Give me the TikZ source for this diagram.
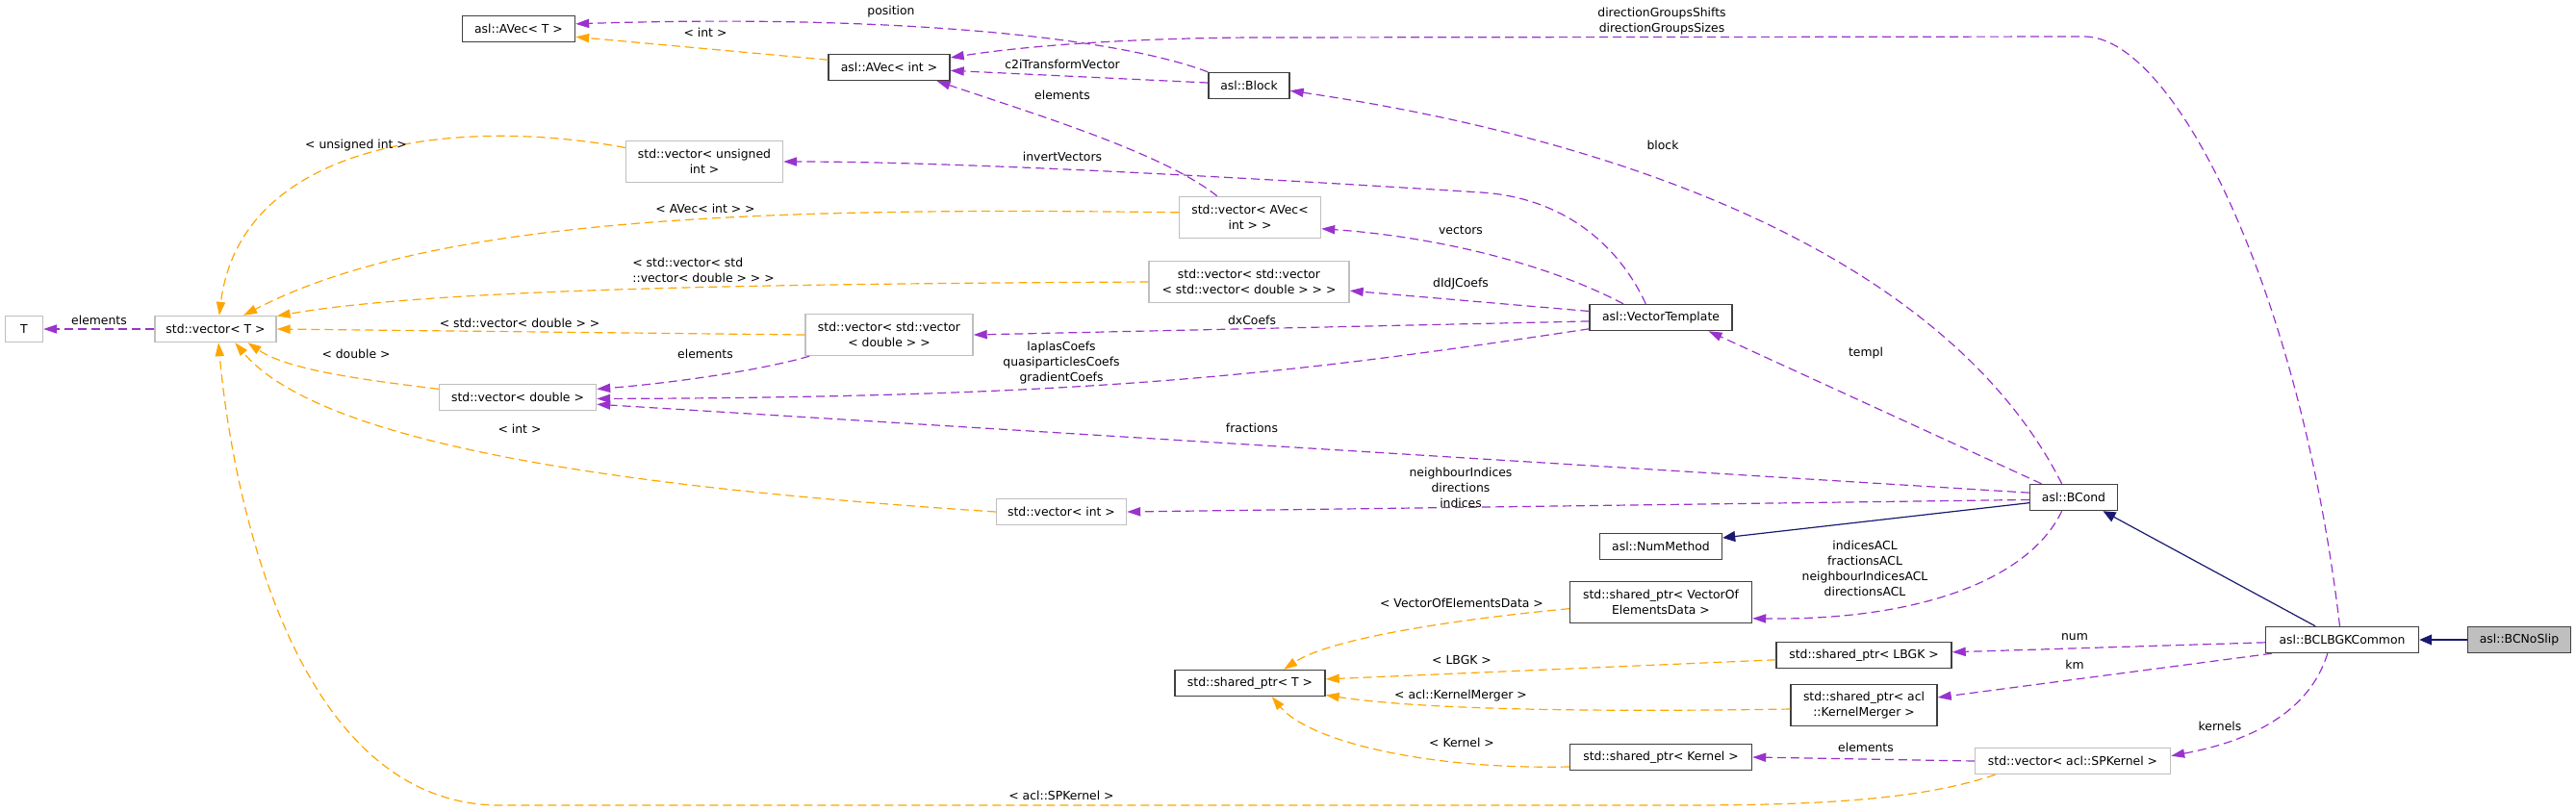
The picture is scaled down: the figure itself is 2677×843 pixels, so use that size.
\documentclass[tikz,border=0pt]{standalone}
\usepackage{fontspec}
\setmainfont{DejaVu Sans}
\usetikzlibrary{arrows.meta}
\definecolor{useEdge}{HTML}{9A32CD}
\definecolor{tmplEdge}{HTML}{FFA500}
\definecolor{inhEdge}{HTML}{191970}
\definecolor{extBorder}{HTML}{BFBFBF}
\definecolor{clsBorder}{HTML}{404040}
\definecolor{selFill}{HTML}{BFBFBF}

\begin{document}
\begin{tikzpicture}[x=0.5pt,y=-0.5pt,
    font=\fontsize{6.2}{8}\selectfont,
    cls/.style={draw=clsBorder,line width=0.7pt,fill=white,align=center,
                inner sep=1pt,minimum height=13.5pt},
    ext/.style={cls,draw=extBorder},
    tall/.style={minimum height=21.5pt},
    lbl/.style={inner sep=0pt,align=center},
    memb/.style={draw=useEdge,line width=0.6pt,dash pattern=on 4.5pt off 2.5pt,
                 -{Triangle[length=7pt,width=4.6pt]}},
    inst/.style={memb,draw=tmplEdge},
    inh/.style={draw=inhEdge,line width=0.6pt,-{Triangle[length=6.5pt,width=5.5pt]}}]

    \useasboundingbox (0,0) rectangle (2677,843);

    % classes and templates
    \node[ext,minimum width=19.5pt] (T) at (25,342) {T};
    \node[ext,minimum width=63pt] (vecT) at (224,342) {std::vector< T >};
    \node[cls,minimum width=58.5pt] (avecT) at (539,30) {asl::AVec< T >};
    \node[ext,tall,minimum width=81.5pt] (vecUInt) at (732,168) {std::vector< unsigned\\int >};
    \node[ext,minimum width=81.5pt] (vecDbl) at (538,413) {std::vector< double >};
    \node[cls,minimum width=63pt] (avecInt) at (924,70) {asl::AVec< int >};
    \node[ext,tall,minimum width=87pt] (vecVecDbl) at (924,348) {std::vector< std::vector\\< double > >};
    \node[ext,minimum width=67.5pt] (vecInt) at (1103,532) {std::vector< int >};
    \node[cls,minimum width=42pt] (block) at (1298,89) {asl::Block};
    \node[ext,tall,minimum width=73.5pt] (vecAVec) at (1299,226) {std::vector< AVec<\\int > >};
    \node[ext,tall,minimum width=104pt] (vecVVD) at (1298,293) {std::vector< std::vector\\< std::vector< double > > >};
    \node[cls,minimum width=78pt] (sptrT) at (1299,710) {std::shared\_ptr< T >};
    \node[cls,minimum width=74pt] (templ) at (1726,330) {asl::VectorTemplate};
    \node[cls,minimum width=63.5pt] (numMethod) at (1726,568) {asl::NumMethod};
    \node[cls,tall,minimum width=94.5pt] (sptrVOED) at (1726,626) {std::shared\_ptr< VectorOf\\ElementsData >};
    \node[cls,minimum width=94.5pt] (sptrKernel) at (1726,787) {std::shared\_ptr< Kernel >};
    \node[cls,minimum width=91pt] (sptrLBGK) at (1937,681) {std::shared\_ptr< LBGK >};
    \node[cls,tall,minimum width=76pt] (sptrKM) at (1937,733) {std::shared\_ptr< acl\\::KernelMerger >};
    \node[cls,minimum width=45.5pt] (bcond) at (2155,517) {asl::BCond};
    \node[ext,minimum width=101.5pt] (vecSPK) at (2154,791) {std::vector< acl::SPKernel >};
    \node[cls,minimum width=79.5pt] (bclbgk) at (2434,665) {asl::BCLBGKCommon};
    \node[cls,fill=selFill,minimum width=53.5pt] (bcnoslip) at (2618,665) {asl::BCNoSlip};

    % member relations
    \draw[memb] (vecT.west) -- (T.east);
    \draw[memb] (block.north west) .. controls (1150,35) and (900,15) .. (avecT.5);
    \draw[memb] (block.176) -- (avecInt.-3);
    \draw[memb] (bclbgk.100) .. controls (2390,300) and (2260,40) .. (2167,38)
        -- (1300,39) .. controls (1150,40) and (1050,50) .. (avecInt.9);
    \draw[memb] (vecAVec.147) .. controls (1210,160) and (1080,120) .. (avecInt.-16);
    \draw[memb] (templ.138) .. controls (1680,250) and (1620,205) .. (1539,200)
        .. controls (1300,185) and (1000,168) .. (vecUInt.east);
    \draw[memb] (templ.160) .. controls (1600,270) and (1480,245) .. (vecAVec.-9);
    \draw[memb] (templ.175) -- (vecVVD.-5);
    \draw[memb] (templ.183) -- (vecVecDbl.east);
    \draw[memb] (templ.189) .. controls (1350,387) and (1150,413) .. (vecDbl.-1);
    \draw[memb] (vecVecDbl.195) .. controls (790,385) and (700,398) .. (vecDbl.6);
    \draw[memb] (bcond.174) -- (vecDbl.-5);
    \draw[memb] (bcond.183) -- (vecInt.east);
    \draw[memb] (bcond.157) -- (templ.-16);
    \draw[memb] (bcond.131) .. controls (2030,280) and (1720,150) .. (block.-7);
    \draw[memb] (bcond.-131) .. controls (2110,600) and (2000,645) .. (sptrVOED.-10);
    \draw[memb] (bclbgk.182) -- (sptrLBGK.2);
    \draw[memb] (bclbgk.191) -- (sptrKM.6);
    \draw[memb] (bclbgk.223) .. controls (2400,740) and (2340,770) .. (vecSPK.3);
    \draw[memb] (vecSPK.west) -- (sptrKernel.east);

    % template instances
    \draw[inst] (avecInt.173) -- (avecT.-8);
    \draw[inst] (vecUInt.170) .. controls (470,120) and (250,150) .. (vecT.75);
    \draw[inst] (vecAVec.176) .. controls (800,215) and (450,225) .. (vecT.26);
    \draw[inst] (vecVVD.west) .. controls (800,295) and (450,300) .. (vecT.12);
    \draw[inst] (vecVecDbl.west) -- (vecT.east);
    \draw[inst] (vecDbl.174) .. controls (380,395) and (300,385) .. (vecT.-23);
    \draw[inst] (vecInt.west) .. controls (700,510) and (340,470) .. (vecT.-35);
    \draw[inst] (vecSPK.190) .. controls (2000,830) and (1900,837) .. (1750,837)
        -- (520,837) .. controls (300,837) and (240,500) .. (vecT.-78);
    \draw[inst] (sptrVOED.184) .. controls (1500,645) and (1380,665) .. (sptrT.22);
    \draw[inst] (sptrLBGK.183) -- (sptrT.3);
    \draw[inst] (sptrKM.183) .. controls (1600,741) and (1460,735) .. (sptrT.-9);
    \draw[inst] (sptrKernel.186) .. controls (1480,800) and (1360,770) .. (sptrT.-32);

    % inheritance
    \draw[inh] (bcond.187) -- (numMethod.8);
    \draw[inh] (bclbgk.153) -- (bcond.-25);
    \draw[inh] (bcnoslip.west) -- (bclbgk.east);

    % edge labels
    \node[lbl] (lElemT) at (103,333) {elements};
    \node[lbl] (lPosition) at (926,12) {position};
    \node[lbl] (lC2i) at (1104,67) {c2iTransformVector};
    \node[lbl] (lDirGroups) at (1727,22) {directionGroupsShifts\\directionGroupsSizes};
    \node[lbl] (lElemAVec) at (1104,99) {elements};
    \node[lbl] (lInvert) at (1104,163) {invertVectors};
    \node[lbl] (lVectors) at (1518,239) {vectors};
    \node[lbl] (lDIdJ) at (1518,295) {dIdJCoefs};
    \node[lbl] (lDx) at (1301,333) {dxCoefs};
    \node[lbl] (lLaplas) at (1103,377) {laplasCoefs\\quasiparticlesCoefs\\gradientCoefs};
    \node[lbl] (lElemDbl) at (733,368) {elements};
    \node[lbl] (lFractions) at (1301,445) {fractions};
    \node[lbl] (lIndices) at (1518,507) {neighbourIndices\\directions\\indices};
    \node[lbl] (lTempl) at (1939,367) {templ};
    \node[lbl] (lBlock) at (1728,151) {block};
    \node[lbl] (lACL) at (1938,591) {indicesACL\\fractionsACL\\neighbourIndicesACL\\directionsACL};
    \node[lbl] (lNum) at (2156,662) {num};
    \node[lbl] (lKm) at (2156,691) {km};
    \node[lbl] (lKernels) at (2307,755) {kernels};
    \node[lbl] (lElemSPK) at (1939,777) {elements};
    \node[lbl] (iInt) at (733,34) {< int >};
    \node[lbl] (iUInt) at (370,151) {< unsigned int >};
    \node[lbl] (iAVec) at (733,217) {< AVec< int > >};
    \node[lbl,align=left,anchor=west] (iVVD) at (657,281) {< std::vector< std\\::vector< double > > >};
    \node[lbl] (iVecDbl) at (540,336) {< std::vector< double > >};
    \node[lbl] (iDbl) at (370,368) {< double >};
    \node[lbl] (iVecInt) at (540,446) {< int >};
    \node[lbl] (iSPK) at (1103,827) {< acl::SPKernel >};
    \node[lbl] (iVOED) at (1519,627) {< VectorOfElementsData >};
    \node[lbl] (iLBGK) at (1519,686) {< LBGK >};
    \node[lbl] (iKM) at (1518,723) {< acl::KernelMerger >};
    \node[lbl] (iKernel) at (1519,772) {< Kernel >};
\end{tikzpicture}
\end{document}
